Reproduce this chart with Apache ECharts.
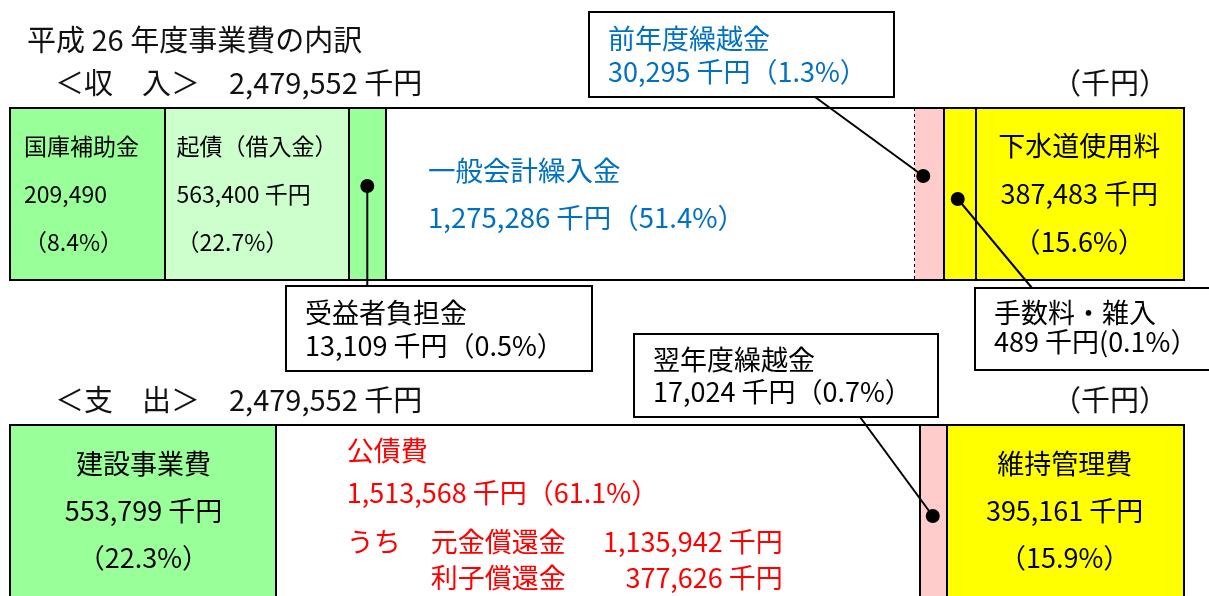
<!DOCTYPE html>
<html lang="ja">
<head>
<meta charset="utf-8">
<title>平成26年度事業費の内訳</title>
<script src="https://cdn.jsdelivr.net/npm/echarts@6/dist/echarts.min.js"></script>
<style>
  html, body { margin: 0; padding: 0; background: #fff; }
  #chart { width: 1209px; height: 596px; }
</style>
</head>
<body>
<div id="chart"></div>
<script>
// 収入（千円）
const incomeNames = ['国庫補助金', '起債（借入金）', '受益者負担金', '一般会計繰入金', '前年度繰越金', '手数料・雑入', '下水道使用料'];
const incomeAmounts = [209490, 563400, 13109, 1275286, 30295, 489, 387483];
const incomePercents = [8.4, 22.7, 0.5, 51.4, 1.3, 0.1, 15.6];
// 図に描かれた帯の長さ（全体=100）。小さい項目は拡大して描かれている
const incomeBarLen = [13.1, 15.7, 3.2, 45.1, 2.5, 2.7, 17.7];

// 支出（千円）
const outgoNames = ['建設事業費', '公債費', '翌年度繰越金', '維持管理費'];
const outgoAmounts = [553799, 1513568, 17024, 395161];
const outgoPercents = [22.3, 61.1, 0.7, 15.9];
const outgoBarLen = [22.6, 54.9, 2.3, 20.2];

// 公債費のうち
const bondNames = ['元金償還金', '利子償還金'];
const bondAmounts = [1135942, 377626];

const totalIncome = 2479552;
const totalOutgo = 2479552;

const FONT = '"Noto Sans CJK JP", "Noto Sans", sans-serif';
const fmt = n => n.toLocaleString('en-US');
const pct = i => '（' + i.toFixed(1) + '%）';

const incomeColors = ['#99ff99', '#ccffcc', '#99ff99', '#ffffff', '#ffcccc', '#ffff00', '#ffff00'];
const outgoColors = ['#99ff99', '#ffffff', '#ffcccc', '#ffff00'];

// 帯の中のラベル
const incomeLabels = [
  { show: true, position: [13, '50%'], align: 'left', verticalAlign: 'middle', fontSize: 23, lineHeight: 48,
    formatter: incomeNames[0] + '\n' + fmt(incomeAmounts[0]) + '\n' + pct(incomePercents[0]) },
  { show: true, position: [12, '50%'], align: 'left', verticalAlign: 'middle', fontSize: 23, lineHeight: 48,
    formatter: incomeNames[1] + '\n' + fmt(incomeAmounts[1]) + ' 千円\n' + pct(incomePercents[1]) },
  { show: false },
  { show: true, position: [42, '50%'], align: 'left', verticalAlign: 'middle', fontSize: 27.5, lineHeight: 47, color: '#0070c0',
    formatter: incomeNames[3] + '\n' + fmt(incomeAmounts[3]) + ' 千円' + pct(incomePercents[3]) },
  { show: false },
  { show: false },
  { show: true, position: 'inside', fontSize: 27, lineHeight: 48,
    formatter: incomeNames[6] + '\n' + fmt(incomeAmounts[6]) + ' 千円\n' + pct(incomePercents[6]) }
];

const RED = { fontSize: 27, color: '#ff0000', fontFamily: FONT };
const bondRich = {
  t1: Object.assign({ lineHeight: 36 }, RED),
  t2: Object.assign({ lineHeight: 48 }, RED),
  u3: Object.assign({ lineHeight: 50, width: 84 }, RED),
  n3: Object.assign({ lineHeight: 50, width: 140 }, RED),
  v3: Object.assign({ lineHeight: 50, width: 212, align: 'right' }, RED),
  u4: Object.assign({ lineHeight: 22, width: 84 }, RED),
  n4: Object.assign({ lineHeight: 22, width: 140 }, RED),
  v4: Object.assign({ lineHeight: 22, width: 212, align: 'right' }, RED)
};

const outgoLabels = [
  { show: true, position: 'inside', fontSize: 27, lineHeight: 47,
    formatter: outgoNames[0] + '\n' + fmt(outgoAmounts[0]) + ' 千円\n' + pct(outgoPercents[0]) },
  { show: true, position: [71, '50%'], align: 'left', verticalAlign: 'middle', rich: bondRich,
    formatter: '{t1|' + outgoNames[1] + '}\n{t2|' + fmt(outgoAmounts[1]) + ' 千円' + pct(outgoPercents[1]) + '}\n' +
      '{u3|うち}{n3|' + bondNames[0] + '}{v3|' + fmt(bondAmounts[0]) + ' 千円}\n' +
      '{u4|　}{n4|' + bondNames[1] + '}{v4|' + fmt(bondAmounts[1]) + ' 千円}' },
  { show: false },
  { show: true, position: 'inside', fontSize: 27, lineHeight: 47,
    formatter: outgoNames[3] + '\n' + fmt(outgoAmounts[3]) + ' 千円\n' + pct(outgoPercents[3]) }
];

function cumulative(arr) {
  const out = [];
  let s = 0;
  arr.forEach(v => { s += v; out.push(s); });
  return out;
}
const incomeEdges = cumulative(incomeBarLen);
const outgoEdges = cumulative(outgoBarLen);

const series = [];
incomeNames.forEach((name, i) => {
  series.push({
    name: name, type: 'bar', stack: 'income', xAxisIndex: 0, yAxisIndex: 0,
    barWidth: '100%', silent: true,
    itemStyle: { color: incomeColors[i] },
    label: Object.assign({ color: '#000', fontFamily: FONT }, incomeLabels[i]),
    data: [incomeBarLen[i]]
  });
});
outgoNames.forEach((name, i) => {
  series.push({
    name: name, type: 'bar', stack: 'outgo', xAxisIndex: 1, yAxisIndex: 1,
    barWidth: '100%', silent: true,
    itemStyle: { color: outgoColors[i] },
    label: Object.assign({ color: '#000', fontFamily: FONT }, outgoLabels[i]),
    data: [outgoBarLen[i]]
  });
});
// 区切り線（前年度繰越金の左だけ点線）
series.push({
  type: 'line', xAxisIndex: 0, yAxisIndex: 0, data: [], silent: true,
  markLine: {
    symbol: ['none', 'none'], silent: true, label: { show: false },
    lineStyle: { color: '#000', width: 2, type: 'solid' },
    data: incomeEdges.slice(0, -1).map((v, i) => ({
      xAxis: v, lineStyle: { type: i === 3 ? [3, 3] : 'solid', width: i === 3 ? 1 : 2 }
    }))
  }
});
series.push({
  type: 'line', xAxisIndex: 1, yAxisIndex: 1, data: [], silent: true,
  markLine: {
    symbol: ['none', 'none'], silent: true, label: { show: false },
    lineStyle: { color: '#000', width: 2, type: 'solid' },
    data: outgoEdges.slice(0, -1).map(v => ({ xAxis: v }))
  }
});

const option = {
  animation: false,
  backgroundColor: '#fff',
  grid: [
    { left: 11, right: 26, top: 109, height: 170, show: true, borderColor: '#000', borderWidth: 4, backgroundColor: 'transparent' },
    { left: 11, right: 26, top: 426, height: 180, show: true, borderColor: '#000', borderWidth: 4, backgroundColor: 'transparent' }
  ],
  xAxis: [
    { type: 'value', gridIndex: 0, min: 0, max: 100, show: false },
    { type: 'value', gridIndex: 1, min: 0, max: 100, show: false }
  ],
  yAxis: [
    { type: 'category', gridIndex: 0, data: ['収入'], show: false },
    { type: 'category', gridIndex: 1, data: ['支出'], show: false }
  ],
  series: series
};

const chart = echarts.init(document.getElementById('chart'));
chart.setOption(option);

// 引き出し線の点の位置は帯の区間の中央から求める
function segMid(edges, i, grid) {
  const start = i === 0 ? 0 : edges[i - 1];
  return chart.convertToPixel({ xAxisIndex: grid, yAxisIndex: grid }, [(start + edges[i]) / 2, 0]);
}
const pBenef = segMid(incomeEdges, 2, 0);
const pCarry = segMid(incomeEdges, 4, 0);
const pFee = segMid(incomeEdges, 5, 0);
const pNext = segMid(outgoEdges, 2, 1);

function callout(x, y, w, h, lines, color, lh) {
  return [
    { type: 'rect', shape: { x: x, y: y, width: w, height: h }, style: { fill: '#fff', stroke: '#000', lineWidth: 2 }, z: 10 },
    { type: 'text', x: x + 19, y: y + 10, style: { text: lines.join('\n'), fill: color, font: '27px ' + FONT, lineHeight: lh }, z: 11 }
  ];
}
function leader(x1, y1, x2, y2) {
  return [
    { type: 'line', shape: { x1: x1, y1: y1, x2: x2, y2: y2 }, style: { stroke: '#000', lineWidth: 2 }, z: 9 },
    { type: 'circle', shape: { cx: x1, cy: y1, r: 7 }, style: { fill: '#000' }, z: 9 }
  ];
}
function headText(x, y, text, size) {
  return { type: 'text', x: x, y: y, style: { text: text, fill: '#111', font: size + 'px ' + FONT, verticalAlign: 'middle' } };
}

const gfx = [].concat(
  headText(27, 40, '平成 26 年度事業費の内訳', 29),
  headText(55, 83, '＜収　入＞　' + fmt(totalIncome) + ' 千円', 29),
  headText(1052, 83, '（千円）', 29),
  headText(55, 400, '＜支　出＞　' + fmt(totalOutgo) + ' 千円', 29),
  headText(1052, 400, '（千円）', 29),
  leader(pBenef[0], pBenef[1] - 8, pBenef[0], 286),
  leader(pCarry[0] - 6, pCarry[1] - 18, 815, 97),
  leader(pFee[0] - 2, pFee[1] + 5, 1032, 288),
  leader(pNext[0], pNext[1] + 5, 860, 417),
  callout(589, 12, 305, 85, [incomeNames[4], fmt(incomeAmounts[4]) + ' 千円' + pct(incomePercents[4])], '#0070c0', 33),
  callout(286, 286, 306, 85, [incomeNames[2], fmt(incomeAmounts[2]) + ' 千円' + pct(incomePercents[2])], '#000', 33),
  callout(975, 288, 245, 82, ['手数料・雑入', fmt(incomeAmounts[5]) + ' 千円(' + incomePercents[5].toFixed(1) + '%）'], '#000', 29),
  callout(634, 334, 304, 83, [outgoNames[2], fmt(outgoAmounts[2]) + ' 千円' + pct(outgoPercents[2])], '#000', 32)
);
chart.setOption({ graphic: gfx });
</script>
</body>
</html>
